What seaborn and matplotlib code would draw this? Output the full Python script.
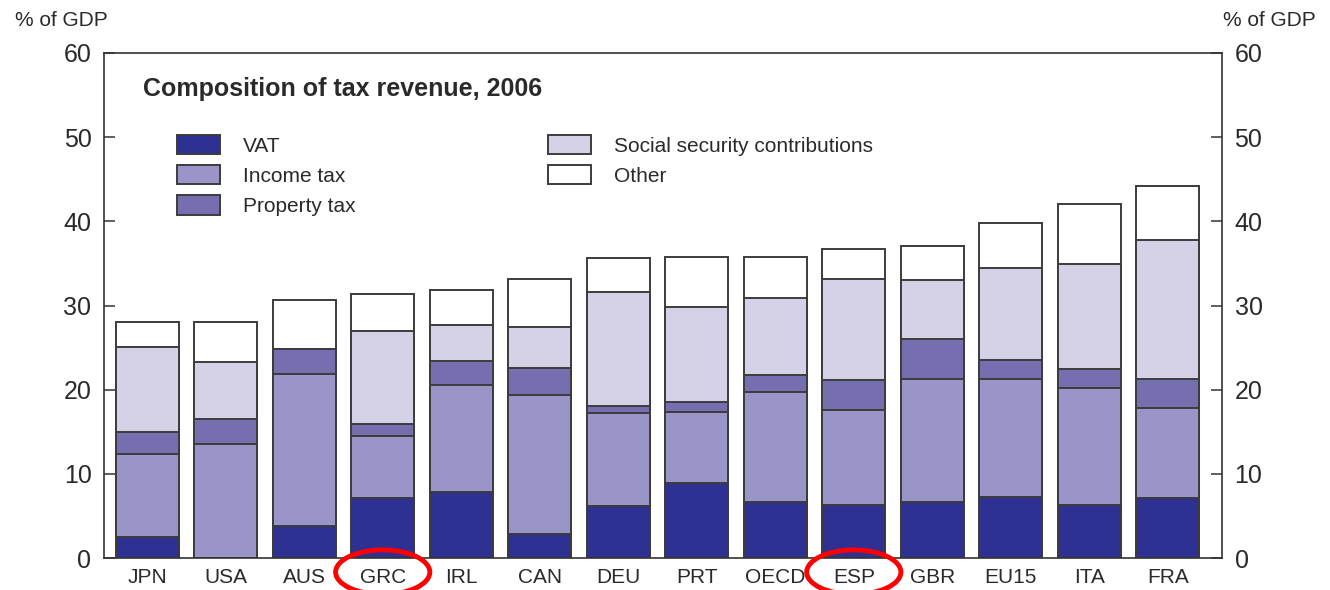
import matplotlib
matplotlib.use("Agg")
import matplotlib.pyplot as plt
import matplotlib.patches as mpatches
import matplotlib.transforms as mtransforms
import numpy as np
import pandas as pd
import seaborn as sns

countries = ["JPN", "USA", "AUS", "GRC", "IRL", "CAN", "DEU", "PRT", "OECD", "ESP", "GBR", "EU15", "ITA", "FRA"]
vat      = [2.5, 0.0, 3.85, 7.1, 7.8, 2.9, 6.2, 8.9, 6.7, 6.3, 6.7, 7.3, 6.3, 7.1]
income   = [9.85, 13.5, 18.05, 7.4, 12.7, 16.5, 11.0, 8.4, 13.05, 11.3, 14.6, 14.0, 13.9, 10.75]
property_tax = [2.65, 3.0, 2.9, 1.4, 2.9, 3.2, 0.9, 1.2, 1.95, 3.5, 4.7, 2.2, 2.2, 3.45]
social   = [10.1, 6.8, 0.0, 11.1, 4.3, 4.8, 13.5, 11.3, 9.2, 12.1, 7.0, 10.9, 12.5, 16.5]
other    = [2.9, 4.7, 5.8, 4.4, 4.1, 5.8, 4.0, 6.0, 4.9, 3.5, 4.1, 5.35, 7.2, 6.4]
series_names = ["VAT", "Income tax", "Property tax", "Social security contributions", "Other"]
highlighted = ["GRC", "ESP"]
yticks = [0, 10, 20, 30, 40, 50, 60]

colors = ["#2E3192", "#9A95C8", "#756FB0", "#D5D2E8", "#FFFFFF"]
edge = "#3c3c3c"
txt = "#2a2a2a"

sns.set_theme(style="white")
plt.rcParams["font.family"] = ["Liberation Sans", "DejaVu Sans"]

df = pd.DataFrame({"country": countries, "VAT": vat, "Income tax": income,
                   "Property tax": property_tax,
                   "Social security contributions": social, "Other": other})
cum = df[series_names].cumsum(axis=1)

fig = plt.figure(figsize=(13.3, 5.9), dpi=100)
ax = fig.add_axes([104/1330, 32/590, (1222-104)/1330, (558-53)/590])

# draw cumulative bars from the top segment down so lower segments overlay upper ones
for name, col in reversed(list(zip(series_names, colors))):
    sns.barplot(data=cum.assign(country=df["country"]), x="country", y=name,
                order=countries, color=col, saturation=1, errorbar=None,
                edgecolor=edge, linewidth=1.4, width=0.8, ax=ax)

ax.set_xlim(-0.55, 13.69)
ax.set_ylim(0, 60)
ax.set_yticks(yticks)
ax.set_xlabel("")
ax.set_ylabel("")
for s in ax.spines.values():
    s.set_visible(True)
    s.set_color("#333333")
    s.set_linewidth(1.2)

ax.tick_params(axis="y", which="both", direction="in", length=8, width=1.1,
               color="#333333", left=True, right=True, labelleft=True,
               labelright=True, labelsize=18, labelcolor=txt, pad=9)
ax.tick_params(axis="x", length=0, labelsize=15, labelcolor=txt, pad=7)

ax.text(0.035, 0.929, "Composition of tax revenue, 2006", transform=ax.transAxes,
        fontsize=18, fontweight="bold", color=txt, va="center", ha="left")

handles = [mpatches.Patch(facecolor=c, edgecolor=edge, linewidth=1.4) for c in colors]
leg = ax.legend(handles, series_names, ncol=2, loc="upper left",
                bbox_to_anchor=(0.065, 0.838), frameon=False, fontsize=15,
                handlelength=2.07, handleheight=1.06, handletextpad=1.1,
                labelspacing=0.45, columnspacing=9.25, borderpad=0,
                borderaxespad=0)
for t in leg.get_texts():
    t.set_color(txt)

fig.text(15/1330, (590-20)/590, "% of GDP", fontsize=15, color=txt,
         ha="left", va="center")
fig.text(1316/1330, (590-20)/590, "% of GDP", fontsize=15, color=txt,
         ha="right", va="center")

trans = mtransforms.blended_transform_factory(ax.transData, ax.transAxes)
for c in highlighted:
    i = countries.index(c)
    e = mpatches.Ellipse((i, -0.028), width=1.2, height=0.088, transform=trans,
                         fill=False, edgecolor="#FF0000", linewidth=3.5,
                         clip_on=False, zorder=10)
    ax.add_patch(e)

fig.savefig("out.png", dpi=100)
